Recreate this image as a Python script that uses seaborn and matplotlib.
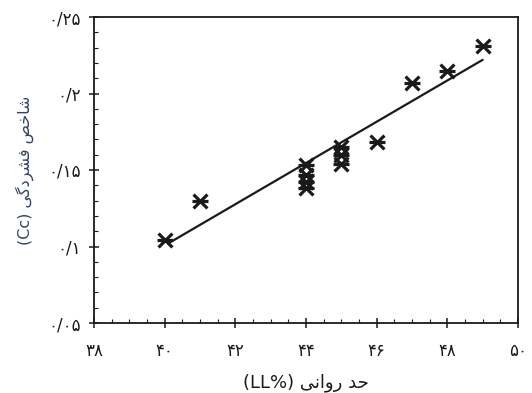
import matplotlib
matplotlib.use("Agg")
import matplotlib.pyplot as plt
import seaborn as sns
import pandas as pd
from matplotlib.ticker import MultipleLocator, FixedLocator, FixedFormatter

# Data
ll = [40, 41, 44, 44, 44, 44, 45, 45, 45, 46, 47, 48, 49]
cc = [0.104, 0.130, 0.153, 0.147, 0.142, 0.138, 0.165, 0.160, 0.154, 0.1685, 0.207, 0.215, 0.231]

# Fitted trend line as drawn in the reference
fit_ll = [40.1, 49.0]
fit_cc = [0.102, 0.222]

x_ticks = [38, 40, 42, 44, 46, 48, 50]
x_tick_labels = ["۳۸", "۴۰", "۴۲", "۴۴", "۴۶", "۴۸", "۵۰"]
y_ticks = [0.05, 0.10, 0.15, 0.20, 0.25]
y_tick_labels = ["۰/۰۵", "۰/۱", "۰/۱۵", "۰/۲", "۰/۲۵"]

# Persian labels in visual (shaped, left-to-right) order
x_label = "(LL%) \uFBFD\uFEE7\uFE8D\uFEED\uFEAD \uFEAA\uFEA3"
y_label = "(Cc) \uFBFD\uFB94\uFEA9\uFEAE\uFEB8\uFED3 \uFEBA\uFEA7\uFE8E\uFEB7"

df = pd.DataFrame({"LL": ll, "Cc": cc})
fit_df = pd.DataFrame({"LL": fit_ll, "Cc": fit_cc})

sns.set_theme(style="ticks")
plt.rcParams["font.family"] = ["DejaVu Sans"]

fig, ax = plt.subplots(figsize=(5.32, 3.93), dpi=100)
fig.subplots_adjust(left=94/532, right=518/532, top=1-17/393, bottom=1-323/393)

ink = "#1a1a1a"
sns.lineplot(data=fit_df, x="LL", y="Cc", color=ink, lw=1.6, ax=ax)
sns.scatterplot(data=df, x="LL", y="Cc", marker="x", s=100, color=ink,
                linewidth=2.3, ax=ax, zorder=3)
sns.scatterplot(data=df, x="LL", y="Cc", marker="_", s=140, color=ink,
                linewidth=2.3, ax=ax, zorder=3)

ax.set_xlim(38, 50)
ax.set_ylim(0.05, 0.25)
ax.xaxis.set_major_locator(FixedLocator(x_ticks))
ax.xaxis.set_major_formatter(FixedFormatter(x_tick_labels))
ax.yaxis.set_major_locator(FixedLocator(y_ticks))
ax.yaxis.set_major_formatter(FixedFormatter(y_tick_labels))
ax.xaxis.set_minor_locator(MultipleLocator(0.5))
ax.yaxis.set_minor_locator(MultipleLocator(0.01))

ax.tick_params(which="major", direction="inout", length=7, width=1.1, colors=ink,
               labelsize=12)
ax.tick_params(axis="x", which="major", pad=10)
ax.tick_params(axis="y", which="major", pad=6)
ax.tick_params(which="minor", direction="in", length=3, width=0.8, colors=ink)
for s in ax.spines.values():
    s.set_visible(True)
    s.set_color(ink)
    s.set_linewidth(1.3)

ax.set_xlabel(x_label, fontsize=13, labelpad=10, color=ink)
ax.set_ylabel(y_label, fontsize=11.5, labelpad=10, color="#334466")

fig.savefig("out.png", dpi=100)
